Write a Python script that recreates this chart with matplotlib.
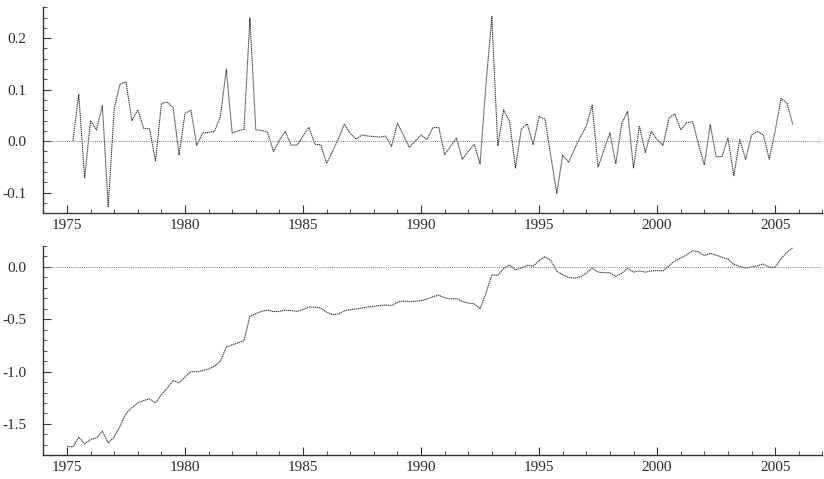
import numpy as np
import matplotlib
matplotlib.use("Agg")
import matplotlib.pyplot as plt
from matplotlib.ticker import MultipleLocator, FormatStrFormatter

# ---- data (quarterly) ----
# top panel: quarterly changes, 1975Q2 .. 2005Q4
diff_start = 1975.25
diff_values = [
    0.000, 0.091, -0.072,                      # 1975 Q2-Q4
    0.040, 0.022, 0.069, -0.127,               # 1976
    0.063, 0.111, 0.115, 0.040,                # 1977
    0.061, 0.025, 0.024, -0.039,               # 1978
    0.073, 0.076, 0.065, -0.027,               # 1979
    0.054, 0.060, -0.008, 0.016,               # 1980
    0.017, 0.019, 0.048, 0.139,                # 1981
    0.016, 0.020, 0.023, 0.239,                # 1982
    0.022, 0.021, 0.017, -0.020,               # 1983
    0.002, 0.019, -0.008, -0.007,              # 1984
    0.010, 0.027, -0.006, -0.007,              # 1985
    -0.043, -0.020, 0.005, 0.033,              # 1986
    0.015, 0.004, 0.012, 0.010,                # 1987
    0.009, 0.008, 0.010, -0.010,               # 1988
    0.035, 0.012, -0.012, 0.000,               # 1989
    0.012, 0.003, 0.026, 0.027,                # 1990
    -0.026, -0.010, 0.006, -0.035,             # 1991
    -0.020, -0.006, -0.044, 0.110,             # 1992
    0.242, -0.009, 0.061, 0.038,               # 1993
    -0.052, 0.024, 0.034, -0.007,              # 1994
    0.048, 0.043, -0.030, -0.101,              # 1995
    -0.027, -0.041, -0.015, 0.008,             # 1996
    0.029, 0.070, -0.050, -0.017,              # 1997
    0.016, -0.044, 0.034, 0.058,               # 1998
    -0.052, 0.030, -0.022, 0.019,              # 1999
    0.003, -0.008, 0.045, 0.053,               # 2000
    0.022, 0.036, 0.038, -0.005,               # 2001
    -0.046, 0.032, -0.030, -0.030,             # 2002
    0.006, -0.067, 0.003, -0.035,              # 2003
    0.012, 0.019, 0.012, -0.035,               # 2004
    0.020, 0.083, 0.074, 0.032,                # 2005
]

# bottom panel: level, 1975Q1 .. 2005Q4
level_start = 1975.0
level_values = [
    -1.713, -1.720, -1.627, -1.691,            # 1975
    -1.650, -1.634, -1.570, -1.682,            # 1976
    -1.624, -1.522, -1.401, -1.347,            # 1977
    -1.299, -1.277, -1.261, -1.299,            # 1978
    -1.220, -1.156, -1.086, -1.108,            # 1979
    -1.051, -1.000, -1.003, -0.990,            # 1980
    -0.975, -0.949, -0.901, -0.764,            # 1981
    -0.745, -0.726, -0.704, -0.471,            # 1982
    -0.446, -0.424, -0.411, -0.427,            # 1983
    -0.424, -0.414, -0.417, -0.424,            # 1984
    -0.408, -0.382, -0.385, -0.392,            # 1985
    -0.433, -0.455, -0.450, -0.420,            # 1986
    -0.408, -0.401, -0.392, -0.382,            # 1987
    -0.376, -0.369, -0.363, -0.369,            # 1988
    -0.338, -0.325, -0.331, -0.328,            # 1989
    -0.322, -0.306, -0.285, -0.270,            # 1990
    -0.295, -0.305, -0.303, -0.330,            # 1991
    -0.345, -0.352, -0.400, -0.250,            # 1992
    -0.075, -0.080, -0.015, 0.020,             # 1993
    -0.030, -0.010, 0.015, 0.008,              # 1994
    0.060, 0.097, 0.060, -0.040,               # 1995
    -0.075, -0.100, -0.108, -0.095,            # 1996
    -0.060, -0.010, -0.050, -0.055,            # 1997
    -0.055, -0.090, -0.060, -0.012,            # 1998
    -0.050, -0.038, -0.050, -0.038,            # 1999
    -0.035, -0.038, 0.010, 0.060,              # 2000
    0.085, 0.115, 0.155, 0.145,                # 2001
    0.108, 0.130, 0.112, 0.092,                # 2002
    0.075, 0.025, 0.005, -0.012,               # 2003
    0.000, 0.012, 0.028, -0.003,               # 2004
    -0.003, 0.080, 0.140, 0.185,               # 2005
]

year_ticks = [1975, 1980, 1985, 1990, 1995, 2000, 2005]
top_yticks = [-0.1, 0.0, 0.1, 0.2]
bot_yticks = [-1.5, -1.0, -0.5, 0.0]

diff_x = diff_start + 0.25 * np.arange(len(diff_values))
level_x = level_start + 0.25 * np.arange(len(level_values))

# ---- styling ----
plt.rcParams['font.family'] = ['Liberation Serif', 'DejaVu Serif']
plt.rcParams['font.size'] = 11
text_col = '#2a2a2a'
line_col = '#3a3a3a'

fig = plt.figure(figsize=(8.24, 4.79), dpi=100)
ax1 = fig.add_axes([0.0526, 0.5547, 0.9454, 0.4301])
ax2 = fig.add_axes([0.0526, 0.0495, 0.9454, 0.4369])

def style(ax, ymaj, ymin, fmt):
    for s in ['top', 'right']:
        ax.spines[s].set_visible(False)
    for s in ['left', 'bottom']:
        ax.spines[s].set_color('#333333')
        ax.spines[s].set_linewidth(1.0)
    ax.set_xlim(1974.0, 2007.0)
    ax.set_xticks(year_ticks)
    ax.xaxis.set_minor_locator(MultipleLocator(1))
    ax.yaxis.set_major_formatter(FormatStrFormatter(fmt))
    ax.yaxis.set_minor_locator(MultipleLocator(ymin))
    ax.tick_params(axis='both', which='both', direction='in', colors='#333333',
                   labelcolor=text_col)
    ax.tick_params(axis='y', which='major', length=6, width=0.8, pad=12)
    ax.tick_params(axis='y', which='minor', length=3, width=0.6)
    ax.tick_params(axis='x', which='major', length=6, width=0.8, pad=4)
    ax.tick_params(axis='x', which='minor', length=3, width=0.6)

# top panel
ax1.plot(diff_x, diff_values, color=line_col, lw=0.8, linestyle=(0, (1.2, 0.6)))
ax1.axhline(0.0, color='#777777', lw=0.7, linestyle=(0, (1, 1.2)))
ax1.set_ylim(-0.14, 0.26)
ax1.set_yticks(top_yticks)
style(ax1, 0.1, 0.02, '%.1f')

# bottom panel
ax2.plot(level_x, level_values, color=line_col, lw=0.8, linestyle=(0, (1.2, 0.6)))
ax2.axhline(0.0, color='#777777', lw=0.7, linestyle=(0, (1, 1.2)))
ax2.set_ylim(-1.8, 0.2)
ax2.set_yticks(bot_yticks)
style(ax2, 0.5, 0.1, '%.1f')

fig.savefig('out.png', dpi=100)
